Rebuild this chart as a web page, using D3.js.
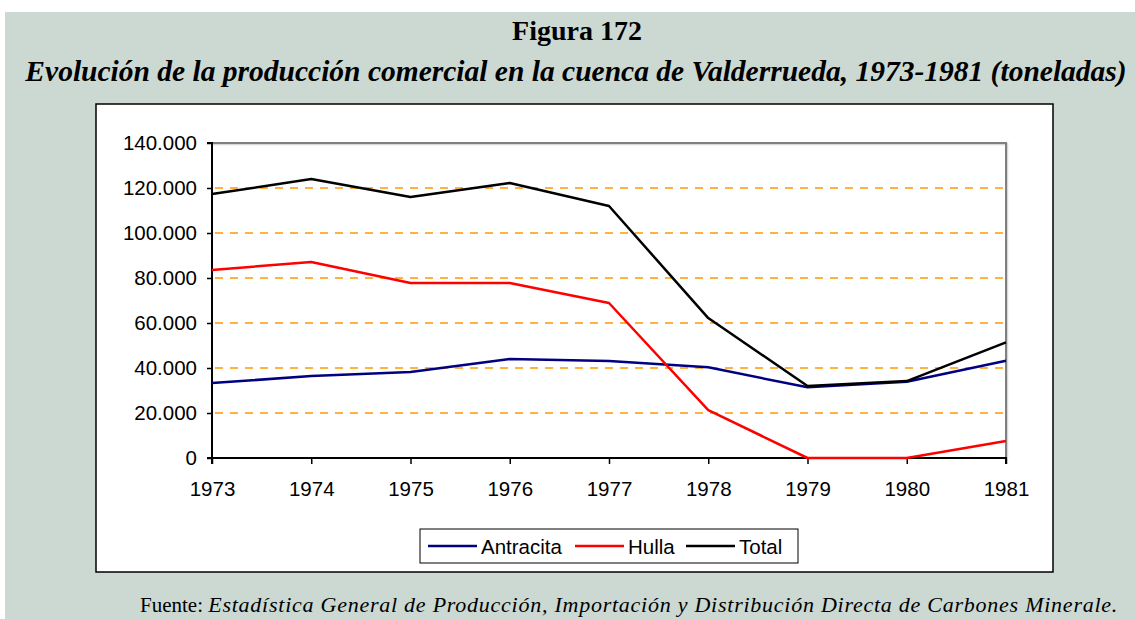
<!DOCTYPE html>
<html>
<head>
<meta charset="utf-8">
<script src="https://cdn.jsdelivr.net/npm/d3@7"></script>
<style>
    body { margin: 0; background: #fff; }
    svg { display: block; }
</style>
</head>
<body>
<svg class="chart"></svg>
<script>
    var years = [1973, 1974, 1975, 1976, 1977, 1978, 1979, 1980, 1981];
    var antracita = [33300, 36400, 38200, 44000, 43100, 40300, 31400, 33900, 43200];
    var hulla = [83600, 87100, 77800, 77800, 68900, 21300, 0, 0, 7600];
    var total = [117300, 124000, 116000, 122200, 112000, 62200, 32000, 34200, 51400];
    var seriesNames = ['Antracita', 'Hulla', 'Total'];
    var seriesColors = ['#000080', '#ff0000', '#000000'];
    var yTicks = [0, 20000, 40000, 60000, 80000, 100000, 120000, 140000];

    var width = 1135, height = 619;
    var plot = { left: 212, right: 1006, top: 143, bottom: 458 };
    var sans = '"Liberation Sans", Arial, sans-serif';

    var svg = d3.select('.chart')
        .attr('width', width)
        .attr('height', height);

    // background panel
    svg.append('rect')
        .attr('x', 5).attr('y', 12)
        .attr('width', width - 5).attr('height', height - 12)
        .attr('fill', '#cbd9d2');

    svg.append('text')
        .attr('x', 577).attr('y', 40)
        .attr('text-anchor', 'middle')
        .style('font', 'bold 28px "Liberation Serif", serif')
        .text('Figura 172');

    svg.append('text')
        .attr('x', 576).attr('y', 81)
        .attr('text-anchor', 'middle')
        .style('font', 'italic bold 29.5px "Liberation Serif", serif')
        .text('Evolución de la producción comercial en la cuenca de Valderrueda, 1973-1981 (toneladas)');

    // chart area
    svg.append('rect')
        .attr('x', 96).attr('y', 104)
        .attr('width', 1053 - 96).attr('height', 572 - 104)
        .attr('fill', '#fff')
        .attr('stroke', '#000')
        .attr('stroke-width', 1.5);

    var x = d3.scalePoint()
        .domain(years)
        .range([plot.left, plot.right]);

    var y = d3.scaleLinear()
        .domain([0, 140000])
        .range([plot.bottom, plot.top]);

    var fmt = function(d) {
        return d3.format(',')(d).replace(/,/g, '.');
    };

    // gridlines
    svg.append('g')
        .selectAll('line')
        .data(yTicks.filter(function(d) { return d > 0 && d < 140000; }))
        .enter().append('line')
        .attr('x1', plot.left + 3).attr('x2', plot.right)
        .attr('y1', function(d) { return y(d); })
        .attr('y2', function(d) { return y(d); })
        .attr('stroke', '#ff9900')
        .attr('stroke-width', 1.5)
        .attr('stroke-dasharray', '8,7');

    // plot frame (top/right, grey with shadow)
    svg.append('path')
        .attr('d', 'M' + plot.left + ',' + (plot.top + 1) + 'H' + (plot.right + 1) + 'V' + plot.bottom)
        .attr('fill', 'none')
        .attr('stroke', '#d8d8d8')
        .attr('stroke-width', 2.5);
    svg.append('path')
        .attr('d', 'M' + plot.left + ',' + plot.top + 'H' + plot.right + 'V' + plot.bottom)
        .attr('fill', 'none')
        .attr('stroke', '#808080')
        .attr('stroke-width', 2);

    var yAxis = svg.append('g')
        .attr('transform', 'translate(' + plot.left + ',0)')
        .call(d3.axisLeft(y).tickValues(yTicks).tickFormat(fmt).tickSize(5).tickPadding(10));

    var xAxis = svg.append('g')
        .attr('transform', 'translate(0,' + plot.bottom + ')')
        .call(d3.axisBottom(x).tickSize(6).tickPadding(17));

    [yAxis, xAxis].forEach(function(ax) {
        ax.select('.domain').attr('stroke', '#000').attr('stroke-width', 2);
        ax.selectAll('.tick line').attr('stroke', '#000').attr('stroke-width', 1.5);
        ax.selectAll('text')
            .attr('fill', '#000')
            .style('font', '20.5px ' + sans);
    });
    xAxis.select('.domain').attr('d', 'M' + plot.left + ',6V0H' + plot.right + 'V6');
    yAxis.select('.domain').attr('d', 'M-5,' + plot.top + 'H0V' + plot.bottom + 'H-5');

    var seriesData = [antracita, hulla, total];

    var line = d3.line()
        .x(function(d, i) { return x(years[i]); })
        .y(function(d) { return y(d); });

    svg.append('g')
        .selectAll('path')
        .data(seriesData)
        .enter().append('path')
        .attr('d', line)
        .attr('fill', 'none')
        .attr('stroke', function(d, i) { return seriesColors[i]; })
        .attr('stroke-width', 2.5)
        .attr('stroke-linejoin', 'round');

    // legend
    svg.append('rect')
        .attr('x', 420).attr('y', 529)
        .attr('width', 378).attr('height', 34)
        .attr('fill', '#fff')
        .attr('stroke', '#000')
        .attr('stroke-width', 1);

    var legendX = [428, 575, 686];
    var items = svg.append('g')
        .selectAll('g')
        .data(seriesNames)
        .enter().append('g')
        .attr('transform', function(d, i) { return 'translate(' + legendX[i] + ',546)'; });

    items.append('line')
        .attr('x1', 0).attr('x2', 49)
        .attr('stroke', function(d, i) { return seriesColors[i]; })
        .attr('stroke-width', 2.5);

    items.append('text')
        .attr('x', 53).attr('y', 7.5)
        .style('font', '20.5px ' + sans)
        .text(function(d) { return d; });

    // source note
    var note = svg.append('text')
        .attr('x', 140).attr('y', 612)
        .style('font', '21px "Liberation Serif", serif');
    note.append('tspan').text('Fuente: ');
    note.append('tspan')
        .style('font-style', 'italic')
        .style('font-size', '22px')
        .style('letter-spacing', '0.75px')
        .text('Estadística General de Producción, Importación y Distribución Directa de Carbones Minerale.');
</script>
</body>
</html>
